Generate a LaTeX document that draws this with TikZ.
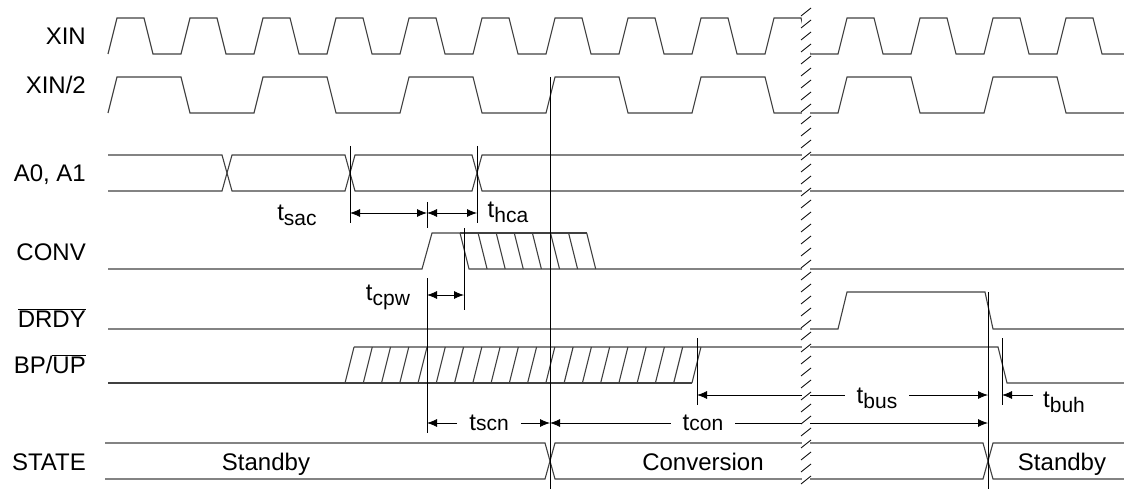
\documentclass[tikz,border=0pt]{standalone}
\usepackage{fontspec}
\setmainfont{Liberation Sans}
\usepackage{tikz}
\usetikzlibrary{arrows.meta}
\usetikzlibrary{calc}
\usetikzlibrary{positioning}

\newcommand{\tsub}[2][5pt]{t\raisebox{-#1}{\fontsize{21}{21}\selectfont #2}}

\begin{document}
\begin{tikzpicture}[x=1pt,y=-1pt,>={Latex[length=10pt,width=8pt]},
    sig/.style={line width=1.1pt,black!75},
    markline/.style={line width=0.8pt,black},
    lbl/.style={font=\fontsize{24}{28}\selectfont,inner sep=0pt},
    dimlbl/.style={lbl,inner xsep=12pt}]
    % We start by placing the signal names

\useasboundingbox (0,0) rectangle (1124,489);

\node[lbl,anchor=base east] (nxin) at (86,45) {XIN};
\node[lbl,anchor=base east] (nxin2) at (86,94) {XIN/2};
\node[lbl,anchor=base east] (naddr) at (86,182) {A0, A1};
\node[lbl,anchor=base east] (nconv) at (86,260) {CONV};
\node[lbl,anchor=base east] (ndrdy) at (86,327) {$\overline{\mbox{DRDY}}$};
\node[lbl,anchor=base east] (nbpup) at (86,373) {BP/$\overline{\mbox{UP}}$};
\node[lbl,anchor=base east] (nstate) at (86,470) {STATE};

% clocks
\draw[sig] (108,54) foreach \r in {108,181,...,1057} { -- (\r,54) -- ++(9,-36) -- ++(27,0) -- ++(9,36) } -- (1124,54);
\draw[sig] (108,113) foreach \r in {108,254,...,984} { -- (\r,113) -- ++(9,-36) -- ++(64,0) -- ++(9,36) } -- (1124,113);

% address bus
\draw[sig] (108,155) -- (222,155) -- (232,191) -- (345,191) -- (355,155) -- (472,155) -- (482,191) -- (1124,191);
\draw[sig] (108,191) -- (222,191) -- (232,155) -- (345,155) -- (355,191) -- (472,191) -- (482,155) -- (1124,155);

% CONV
\draw[sig] (108,269) -- (422,269) -- (432,233) -- (460,233) -- (469,269) -- (1124,269);
\draw[sig] (460,233) -- (587,233);
\foreach \k in {1,...,7}
    \draw[sig] ({460+18.1*\k},233) -- ++(9,36);

% DRDY
\draw[sig] (108,329) -- (838,329) -- (847,292) -- (985,292) -- (993,329) -- (1124,329);

% BP/UP
\draw[sig] (108,383) -- (692,383);
\draw[sig] (354,347) -- (998,347) -- (1007,383) -- (1124,383);
\foreach \k in {0,...,19}
    \draw[sig] ({345+18.26*\k},383) -- ++(9,-36);

% STATE
\draw[sig] (105,443) -- (545,443) -- (555,479) -- (983,479) -- (993,443) -- (1124,443);
\draw[sig] (105,479) -- (545,479) -- (555,443) -- (983,443) -- (993,479) -- (1124,479);
\node[lbl,anchor=base] (sstandby) at (266,470) {Standby};
\node[lbl,anchor=base] (sconv) at (703,470) {Conversion};
\node[lbl,anchor=base] (sstandby2) at (1062,470) {Standby};

% reference lines
\draw[markline] (350,146) -- (350,223);
\draw[markline] (477,146) -- (477,223);
\draw[markline] (427,202) -- (427,228);
\draw[markline] (427,278) -- (427,433);
\draw[markline] (464,228) -- (464,310);
\draw[markline] (550,77) -- (550,489);
\draw[markline] (697,338) -- (697,405);
\draw[markline] (988,292) -- (988,489);
\draw[markline] (1002,338) -- (1002,405);

% timing arrows
\coordinate (sacL) at (350,213);
\coordinate (sacR) at (427,213);
\coordinate (hcaR) at (477,213);
\coordinate (cpwL) at (427,295);
\coordinate (cpwR) at (464,295);
\coordinate (scnL) at (427,423);
\coordinate (scnR) at (550,423);
\coordinate (conR) at (988,423);
\coordinate (busL) at (697,395);
\coordinate (busR) at (988,395);
\coordinate (buhL) at (1002,395);
\coordinate (buhR) at (1033,395);

\draw[markline,<->] (sacL) -- (sacR);
\draw[markline,<->] (sacR) -- (hcaR);
\draw[markline,<->] (cpwL) -- (cpwR);
\node[lbl] (tsac) at (297,215) {\tsub{sac}};
\node[lbl] (thca) at (508,212) {\tsub{hca}};
\node[lbl] (tcpw) at (388,297) {\tsub{cpw}};

\node[dimlbl] (tscn) at (489,423) {\tsub[0pt]{scn}};
\draw[markline,->] (tscn.west |- scnL) -- (scnL);
\draw[markline,->] (tscn.east |- scnL) -- (scnR);
\node[dimlbl] (tcon) at (703,423) {\tsub[0pt]{con}};
\draw[markline,->] (tcon.west |- scnR) -- (scnR);
\draw[markline,->] (tcon.east |- conR) -- (conR);
\node[dimlbl] (tbus) at (877,398) {\tsub{bus}};
\draw[markline,->] (tbus.west |- busL) -- (busL);
\draw[markline,->] (tbus.east |- busR) -- (busR);
\draw[markline,->] (buhR) -- (buhL);
\node[lbl] (tbuh) at (1064,402) {\tsub{buh}};

% break
\fill[white] (802,0) rectangle (810,489);
\foreach \y in {12,24,...,488}
    \draw[line width=0.8pt,black] (801,\y+4) -- (811,\y-4);

\end{tikzpicture}
\end{document}
